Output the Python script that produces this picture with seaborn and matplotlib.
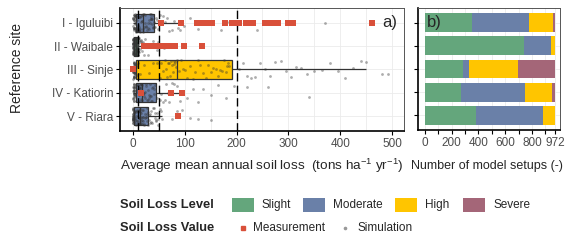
import numpy as np
import pandas as pd
import matplotlib
matplotlib.use("Agg")
import matplotlib.pyplot as plt
from matplotlib.patches import Rectangle
from matplotlib.lines import Line2D
import seaborn as sns

# ---------------- data ----------------
sites = ["I - Iguluibi", "II - Waibale", "III - Sinje", "IV - Katiorin", "V - Riara"]

sim_I = [0.2,0.4,0.6,0.8,1.0,1.2,1.4,1.6,1.8,2.0,2.2,2.5,2.8,3.0,3.2,3.4,3.6,3.8,4.0,4.2,
         4.4,4.6,4.8,5.0,5.2,5.5,5.8,6.1,6.4,6.8,7.2,7.6,8.0,8.5,9.0,9.5,
         10.5,11,11.5,12,12.5,13,13.5,14,15,16,17,17.5,18,18.5,19,20,21,22,23,24,
         25,26,27,28,29,30,31,32,33,34,34.5,35,35.5,36,37,38,39,39.5,40,41,43,45,47,49,
         52,55,58,62,66,70,75,80,86,90,98,110,125,140,155,170,185,195,240,370]
sim_II = [0.1,0.15,0.2,0.25,0.3,0.35,0.4,0.45,0.5,0.55,0.6,0.65,0.7,0.75,0.8,0.85,0.9,0.95,1.0,1.05,
          1.1,1.15,1.2,1.25,1.3,1.4,1.5,1.6,1.7,1.8,1.9,2.0,2.1,2.2,2.4,2.6,2.8,3.0,3.2,3.4,
          3.6,3.8,4.0,4.2,4.4,4.6,4.8,5.0,5.2,5.4,5.6,5.8,6.0,6.2,6.4,6.6,6.8,7.0,7.2,7.4,
          7.6,7.8,8.0,8.2,8.4,8.6,8.8,9.0,9.1,9.2,9.3,9.4,9.5,9.6,9.7,9.8,
          10.5,11,11.5,12,13,14,15,16,17,18,19,21,23,25,28,31,34,38,42,46,49,60,75,100]
sim_III = [0.3,0.5,0.7,0.9,1.0,1.2,1.3,1.5,1.6,1.8,1.9,2.1,2.2,2.4,2.5,2.7,2.8,3.0,3.1,3.3,
           3.4,3.6,3.7,3.9,4.0,5.5,7.0,8.2,9.4,14,22,30,38,46,
           52,55,58,61,63,65,67,69,71,73,75,77,79,80,82,83,
           85,88,92,96,100,105,110,115,120,125,130,135,140,145,150,155,160,164,168,172,176,179,182,184,186,
           205,212,220,228,236,245,255,265,275,285,295,305,315,325,335,350,365,380,395,410,425,440,450,480,492]
sim_IV = [0.3,0.5,0.7,0.9,1.0,1.2,1.3,1.5,1.6,1.7,1.8,1.9,2.0,2.1,2.2,2.3,2.4,2.5,2.6,2.7,
          2.8,2.9,3.0,3.1,3.2,6,9,
          10.2,10.5,10.8,11.1,11.4,11.7,12.0,12.3,12.6,12.9,13.2,13.5,13.8,14.1,14.4,14.7,15.0,15.3,15.6,15.9,
          16.2,16.5,16.8,17,18,19,20,21,22,23,24,25,26,27,28,29,30,31,32,33,34,35,36,37,38,40,41,43,47,
          52,55,58,61,64,67,70,73,76,80,85,90,96,105,115,125,135,150,165,180,195,220,260,340]
sim_V = [0.05,0.1,0.15,0.2,0.25,0.3,0.35,0.4,0.45,0.5,0.55,0.6,0.65,0.7,0.75,0.8,0.85,0.9,0.95,1.0,
         1.1,1.2,1.3,1.4,1.5,2,2.5,3,3.5,4,4.5,5,5.5,6,6.5,7,7.5,8,8.7,9.4,
         10.3,10.6,10.9,11.2,11.5,11.8,12.1,12.4,12.7,13.0,
         13.5,14,14.5,15,15.5,16,16.5,17,17.5,18,18.5,19,19.5,20,21,22,23,24,25,26,26.5,27,27.5,28,29,
         30,31,32,33,34,35,36,38,40,42,43,44,45,46,48,49,52,54,56,75,85,95,110,125,150]

meas_I = [55, 92, 124, 131, 139, 146, 153, 178, 191, 199, 205, 218, 226, 232, 255, 263, 272, 280, 300, 309, 461]
meas_II = [22, 28, 34, 40, 46, 52, 58, 64, 70, 76, 81, 99, 134]
meas_III = [0]
meas_IV = [15, 73, 95]
meas_V = [87]

levels = ["Slight", "Moderate", "High", "Severe"]
n_slight = [355, 738, 283, 266, 385]
n_moderate = [423, 207, 45, 480, 495]
n_high = [177, 27, 366, 201, 92]
n_severe = [17, 0, 278, 25, 0]

box_level = ["Moderate", "Slight", "High", "Moderate", "Moderate"]

# ---------------- style ----------------
sns.set_theme(style="white")
plt.rcParams["font.family"] = ["Liberation Sans", "DejaVu Sans"]
plt.rcParams["mathtext.fontset"] = "custom"
plt.rcParams["mathtext.rm"] = "Liberation Sans"

level_colors = {"Slight": "#64a67c", "Moderate": "#6a80a8", "High": "#ffc500", "Severe": "#a46678"}
meas_color = "#d9503a"
tick_gray = "#4d4d4d"

sim_df = pd.concat([pd.DataFrame({"site": s, "value": v})
                    for s, v in zip(sites, [sim_I, sim_II, sim_III, sim_IV, sim_V])], ignore_index=True)
meas_df = pd.concat([pd.DataFrame({"site": s, "value": v})
                     for s, v in zip(sites, [meas_I, meas_II, meas_III, meas_IV, meas_V])], ignore_index=True)
cnt_df = pd.DataFrame({"site": sites, "Slight": n_slight, "Moderate": n_moderate,
                       "High": n_high, "Severe": n_severe})

W, H = 565, 240
fig = plt.figure(figsize=(W / 100, H / 100), dpi=100)
ax_a = fig.add_axes([120 / W, 1 - 131 / H, 284 / W, 123 / H])
ax_b = fig.add_axes([418 / W, 1 - 130 / H, 142 / W, 122 / H])

# ---------------- panel a ----------------
sns.boxplot(data=sim_df, x="value", y="site", order=sites, hue="site", hue_order=sites,
            palette=[level_colors[l] for l in box_level], legend=False, saturation=1,
            showfliers=False, showcaps=False, width=0.8, linewidth=0.9,
            linecolor="#333333", ax=ax_a)
for p in ax_a.patches:
    p.set_zorder(2)
for ln in ax_a.lines:
    ln.set_zorder(2.5)
n_before = len(ax_a.collections)
sns.stripplot(data=sim_df, x="value", y="site", order=sites, color="#333333",
              alpha=0.4, size=2.0, jitter=0.4, linewidth=0, ax=ax_a)
for c in ax_a.collections[n_before:]:
    c.set_zorder(3)
for xv in [10, 50, 200]:
    ax_a.axvline(xv, color="black", lw=1.0, ls=(0, (6, 3)), zorder=4)
n_before = len(ax_a.collections)
sns.stripplot(data=meas_df, x="value", y="site", order=sites, color=meas_color,
              marker="s", size=4.6, jitter=False, linewidth=0, ax=ax_a)
for c in ax_a.collections[n_before:]:
    c.set_zorder(5)

ax_a.set_xlim(-25.1, 523.2)
ax_a.set_ylim(4.64, -0.64)
ax_a.set_xticks([0, 100, 200, 300, 400, 500])
ax_a.set_xticks([50, 150, 250, 350, 450], minor=True)
ax_a.grid(True, which="both", color="#ebebeb", lw=0.6)
ax_a.set_axisbelow(True)
ax_a.set_xlabel("")
ax_a.set_ylabel("")
ax_a.text(0.975, 0.88, "a)", transform=ax_a.transAxes, ha="right", va="center", fontsize=12)

# ---------------- panel b ----------------
cum = cnt_df[levels].cumsum(axis=1)
for lev in reversed(levels):
    sns.barplot(x=cum[lev].values, y=cnt_df["site"].values, order=sites, orient="h",
                color=level_colors[lev], saturation=1, width=0.82, linewidth=0, ax=ax_b, zorder=2)
ax_b.set_xlim(-52.3, 1009.4)
ax_b.set_ylim(4.64, -0.64)
ax_b.set_xticks([0, 100, 200, 300, 400, 500, 600, 700, 800, 900, 972])
ax_b.set_xticklabels(["0", "", "200", "", "400", "", "600", "", "800", "", "972"])
ax_b.set_yticks(range(5))
ax_b.set_yticklabels([])
ax_b.grid(True, color="#ebebeb", lw=0.6)
ax_b.set_axisbelow(True)
ax_b.set_xlabel("")
ax_b.set_ylabel("")
ax_b.text(0.06, 0.88, "b)", transform=ax_b.transAxes, ha="left", va="center", fontsize=12)

for ax in (ax_a, ax_b):
    ax.tick_params(axis="both", which="major", length=3, width=0.8, color="black",
                   labelcolor=tick_gray, labelsize=8.5, pad=2, bottom=True, left=True)
    ax.tick_params(axis="both", which="minor", length=0)
    for side in ("left", "bottom"):
        ax.spines[side].set_color("black")
        ax.spines[side].set_linewidth(1.2)
    for side in ("top", "right"):
        ax.spines[side].set_color("#555555")
        ax.spines[side].set_linewidth(0.7)

# ---------------- labels ----------------
fig.text(17 / W, 1 - 68 / H, "Reference site", rotation=90, ha="center", va="center", fontsize=10)
fig.text(262 / W, 1 - 166 / H,
         r"Average mean annual soil loss  (tons ha$^{\mathregular{-1}}$ yr$^{\mathregular{-1}}$)",
         ha="center", va="center", fontsize=9.7)
fig.text(487 / W, 1 - 166 / H, "Number of model setups (-)", ha="center", va="center", fontsize=9)

# ---------------- legend ----------------
fig.text(120 / W, 1 - 205 / H, "Soil Loss Level", ha="left", va="center",
         fontsize=9.3, fontweight="bold")
patch_x = [232, 303, 395, 463]
for lev, px in zip(levels, patch_x):
    fig.add_artist(Rectangle((px / W, 1 - 212 / H), 22 / W, 14 / H,
                             transform=fig.transFigure, facecolor=level_colors[lev],
                             edgecolor="none"))
    fig.text((px + 30) / W, 1 - 205 / H, lev, ha="left", va="center", fontsize=8.5)

fig.text(120 / W, 1 - 228 / H, "Soil Loss Value", ha="left", va="center",
         fontsize=9.3, fontweight="bold")
fig.add_artist(Line2D([243 / W], [1 - 228 / H], transform=fig.transFigure, marker="s",
                      markersize=3.2, color=meas_color, linestyle="none"))
fig.text(253 / W, 1 - 228 / H, "Measurement", ha="left", va="center", fontsize=8.5)
fig.add_artist(Line2D([345 / W], [1 - 228 / H], transform=fig.transFigure, marker="o",
                      markersize=1.6, color="#999999", linestyle="none"))
fig.text(357 / W, 1 - 228 / H, "Simulation", ha="left", va="center", fontsize=8.5)

fig.savefig("out.png", dpi=100)
